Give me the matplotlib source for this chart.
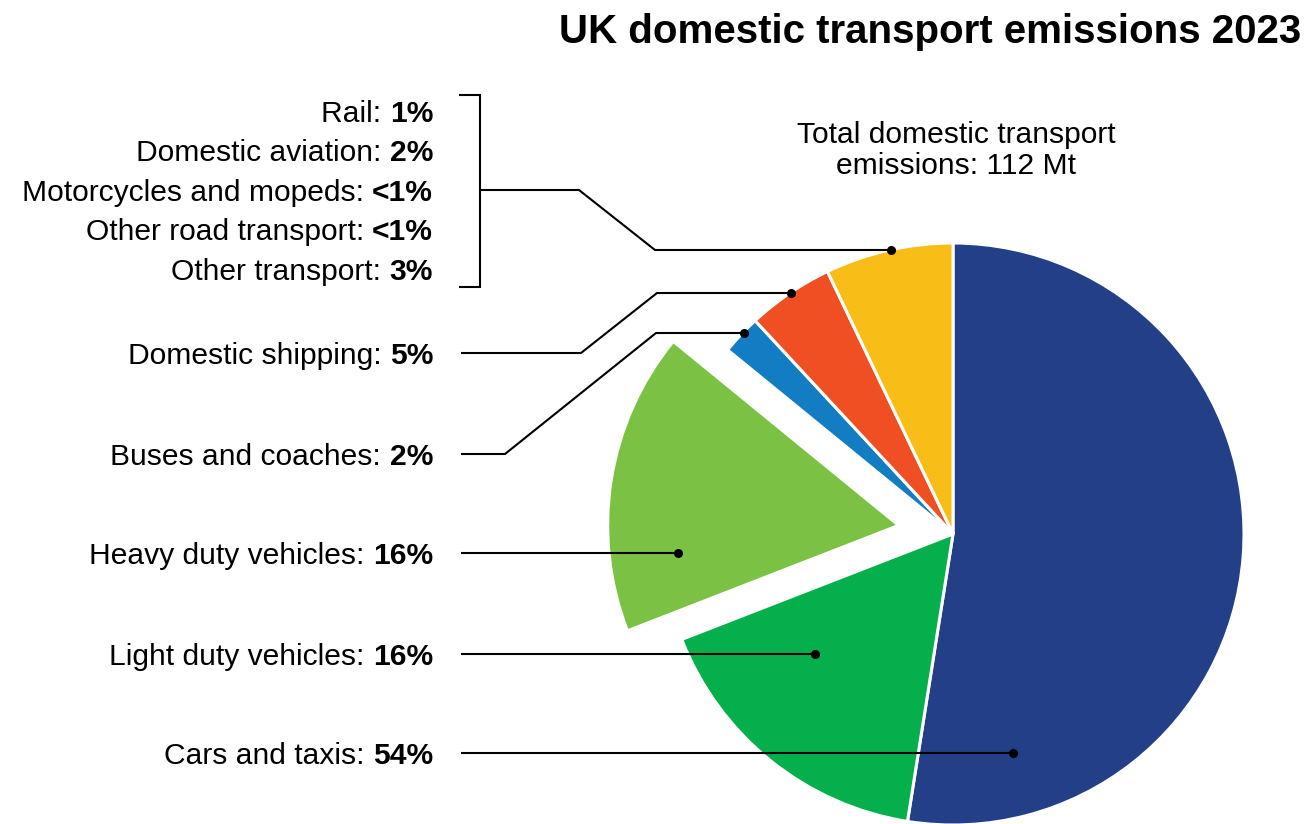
import matplotlib
matplotlib.use("Agg")
import matplotlib.pyplot as plt

plt.rcParams['font.family'] = ['Liberation Sans', 'DejaVu Sans']

# ---------------- data ----------------
title = "UK domestic transport emissions 2023"
total_note = ["Total domestic transport", "emissions: 112 Mt"]

categories = ["Cars and taxis", "Light duty vehicles", "Heavy duty vehicles",
              "Buses and coaches", "Domestic shipping", "Other"]
shares = [52.5, 16.6, 16.8, 2.2, 4.8, 7.1]
share_labels = ["54%", "16%", "16%", "2%", "5%", None]
colors = ["#233F88", "#05B04C", "#7BC244", "#137DC3", "#F04F23", "#F8BD16"]
exploded = ["Heavy duty vehicles"]

other_items = ["Rail", "Domestic aviation", "Motorcycles and mopeds",
               "Other road transport", "Other transport"]
other_labels = ["1%", "2%", "<1%", "<1%", "3%"]

# ---------------- layout ----------------
W, H = 1309, 824
fig = plt.figure(figsize=(W / 100, H / 100), dpi=100)
ax = fig.add_axes([0, 0, 1, 1])


def Y(y):
    return H - y


CX, CY, R = 953, 534, 291
EXPL = 55
FS = 21.6
CAP = 0.716 * FS * 100 / 72  # cap height in px

explode = [EXPL if c in exploded else 0 for c in categories]
ax.pie(shares, colors=colors, explode=explode, startangle=90, counterclock=False,
       center=(CX, Y(CY)), radius=R, frame=False,
       wedgeprops=dict(edgecolor="white", linewidth=2.2))
ax.set_xlim(0, W)
ax.set_ylim(0, H)
ax.set_aspect("equal")
ax.axis("off")

renderer = fig.canvas.get_renderer()


def label(xr, yc, normal, bold):
    yb = Y(yc + CAP / 2)
    tb = ax.text(xr, yb, bold, ha="right", va="baseline", fontsize=FS,
                 fontweight="bold", color="black")
    bb = tb.get_window_extent(renderer=renderer)
    ax.text(xr - bb.width, yb, normal, ha="right", va="baseline",
            fontsize=FS, color="black")


XR = 433
row_y = [111, 150.5, 190, 229.5, 269]
for name, val, yy in zip(other_items, other_labels, row_y):
    label(XR, yy, name + ": ", val)

main_rows = {"Domestic shipping": 353, "Buses and coaches": 454,
             "Heavy duty vehicles": 553, "Light duty vehicles": 654,
             "Cars and taxis": 753}
for name, val in zip(categories, share_labels):
    if name in main_rows:
        label(XR, main_rows[name], name + ": ", val)

LW = 1.5


def leader(points, dot=True):
    xs = [p[0] for p in points]
    ys = [Y(p[1]) for p in points]
    ax.plot(xs, ys, color="black", lw=LW, solid_capstyle="butt",
            solid_joinstyle="miter", zorder=5)
    if dot:
        ax.plot(xs[-1], ys[-1], "o", color="black", ms=5.5, zorder=6)


# bracket grouping the small categories
leader([(459, 95), (480, 95), (480, 287), (459, 287)], dot=False)
leader([(480, 190), (579, 190), (655, 250), (891, 250)])
leader([(461, 353), (581, 353), (657, 293), (791, 293)])
leader([(461, 454), (505, 454), (656, 333), (744, 333)])
leader([(461, 553), (678, 553)])
leader([(461, 654), (815, 654)])
leader([(461, 753), (1013, 753)])

for line, yb in zip(total_note, [143, 174]):
    ax.text(956, Y(yb), line, ha="center", va="baseline", fontsize=FS)

ax.text(1301, Y(43), title, ha="right", va="baseline", fontsize=29,
        fontweight="bold")

fig.savefig("out.png", dpi=100)
